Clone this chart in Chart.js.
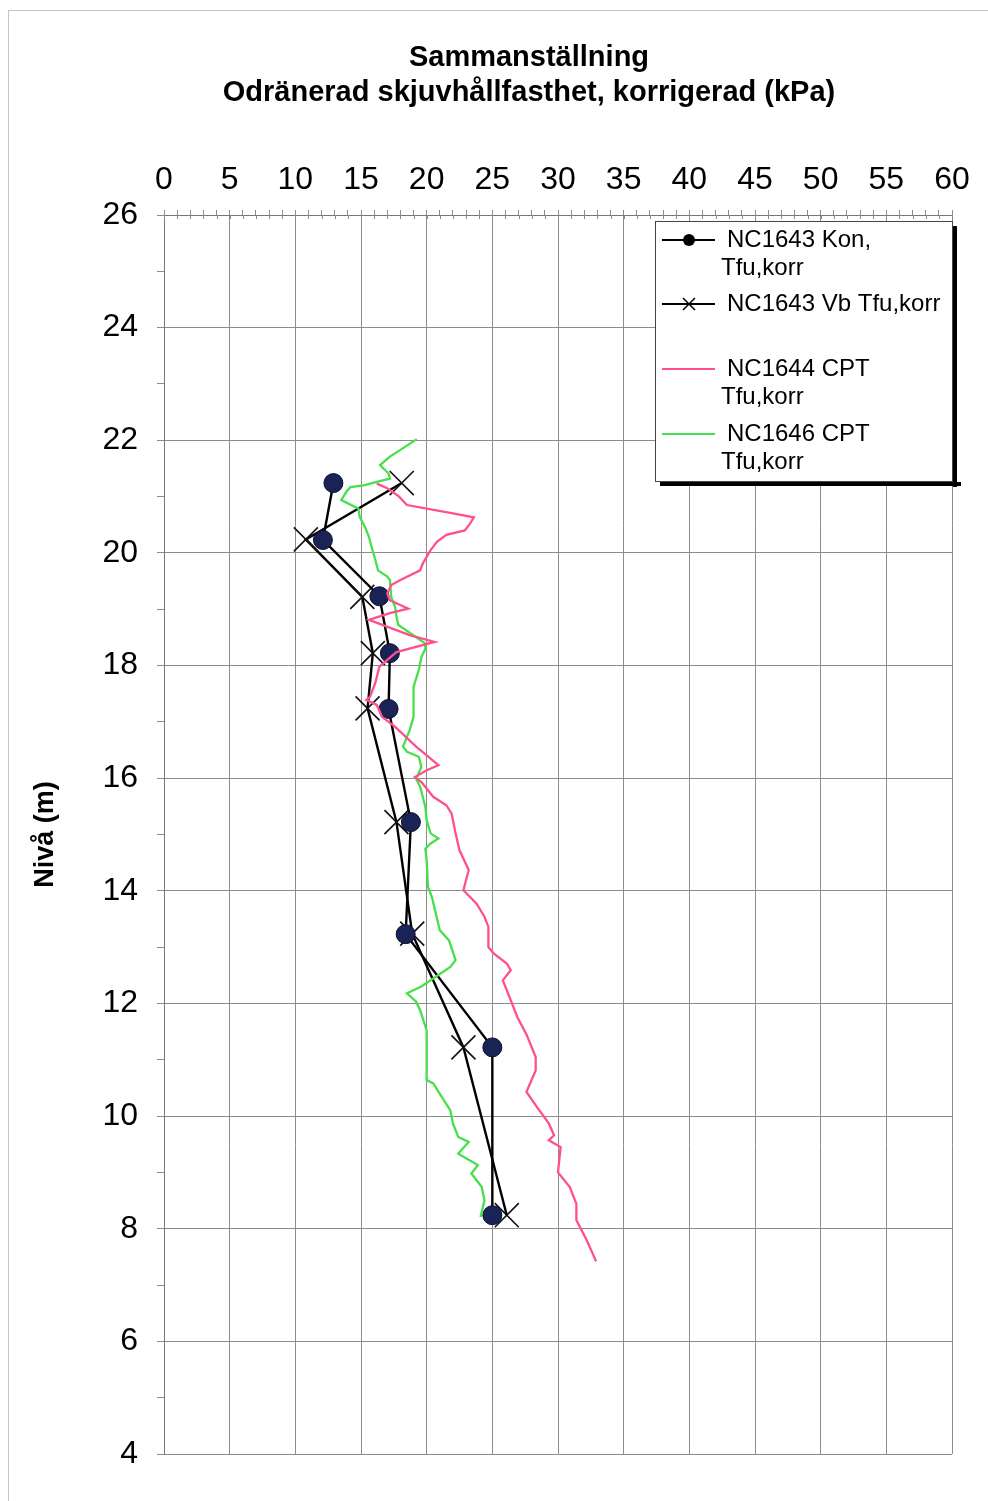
<!DOCTYPE html>
<html>
<head>
<meta charset="utf-8">
<script src="https://cdn.jsdelivr.net/npm/chart.js@4.4.1/dist/chart.umd.min.js"></script>
<style>
  html, body { margin: 0; padding: 0; background: #fff; }
  #wrap { position: relative; width: 988px; height: 1501px; }
  #frame { position: absolute; left: 8px; top: 10px; right: 0; bottom: 0;
           border-left: 1px solid #c4c4c4; border-top: 1px solid #c4c4c4; }
  canvas { position: absolute; left: 0; top: 0; }
</style>
</head>
<body>
<div id="wrap"><div id="frame"></div><canvas id="myChart" width="988" height="1501"></canvas></div>
<script>
// tick labels
const xMajorTicks = [0, 5, 10, 15, 20, 25, 30, 35, 40, 45, 50, 55, 60];
const yMajorTicks = [4, 6, 8, 10, 12, 14, 16, 18, 20, 22, 24, 26];

// NC1643 Kon, Tfu,korr
const konDepth = [21.24, 20.23, 19.23, 18.22, 17.23, 15.22, 13.23, 11.22, 8.24];
const konValue = [12.9, 12.1, 16.4, 17.2, 17.1, 18.8, 18.4, 25.0, 25.0];

// NC1643 Vb Tfu,korr
const vbDepth = [21.24, 20.24, 19.22, 18.22, 17.24, 15.22, 13.24, 11.22, 8.24];
const vbValue = [18.1, 10.8, 15.1, 15.9, 15.5, 17.7, 18.9, 22.8, 26.1];

// NC1644 CPT Tfu,korr
const cpt1644Depth = [21.23, 21.15, 21.0, 20.85, 20.70, 20.63, 20.52, 20.4, 20.32, 20.2,
  20.05, 19.81, 19.69, 19.52, 19.43, 19.28, 19.16, 19.01, 18.93, 18.81,
  18.54, 18.42, 18.24, 17.98, 17.7, 17.45, 17.39, 17.3, 17.09, 16.91,
  16.56, 16.23, 16.14, 16.02, 15.93, 15.67, 15.52, 15.37, 15.02, 14.72,
  14.37, 14.01, 13.77, 13.54, 13.36, 13.0, 12.89, 12.71, 12.59, 12.41,
  12.06, 11.76, 11.45, 11.05, 10.81, 10.43, 10.16, 9.87, 9.66, 9.57,
  9.45, 9.0, 8.74, 8.44, 8.15, 7.79, 7.42];
const cpt1644Value = [16.2, 17.0, 17.9, 18.5, 22.0, 23.6, 23.3, 22.9, 21.5, 20.8,
  20.3, 19.7, 19.5, 18.0, 17.3, 17.0, 17.2, 18.6, 17.2, 15.6,
  18.7, 20.6, 17.7, 16.4, 16.1, 15.7, 15.4, 16.2, 16.6, 17.6,
  19.2, 20.9, 20.0, 19.1, 19.6, 20.5, 21.5, 21.9, 22.2, 22.5,
  23.2, 22.8, 23.8, 24.4, 24.7, 24.7, 25.1, 26.1, 26.4, 25.8,
  26.4, 26.9, 27.6, 28.3, 28.3, 27.6, 28.4, 29.3, 29.7, 29.3,
  30.2, 30.0, 30.9, 31.4, 31.4, 32.2, 32.9];

// NC1646 CPT Tfu,korr
const cpt1646Depth = [22.02, 21.83, 21.71, 21.56, 21.41, 21.32, 21.26, 21.2, 21.17, 21.09,
  20.94, 20.88, 20.79, 20.64, 20.46, 20.29, 20.11, 19.87, 19.69, 19.58,
  19.52, 19.22, 19.04, 18.87, 18.72, 18.39, 18.3, 18.15, 17.92, 17.62,
  17.09, 16.85, 16.56, 16.47, 16.38, 16.2, 15.99, 15.85, 15.49, 15.25,
  15.02, 14.93, 14.84, 14.75, 14.54, 14.07, 13.89, 13.3, 13.12, 12.77,
  12.65, 12.3, 12.18, 12.03, 11.88, 11.52, 10.64, 10.58, 10.1, 9.87,
  9.63, 9.54, 9.33, 9.13, 8.98, 8.74, 8.5, 8.21];
const cpt1646Value = [19.25, 18.0, 17.2, 16.45, 17.1, 17.2, 16.2, 15.2, 14.2, 13.9,
  13.5, 14.0, 14.8, 14.9, 15.3, 15.6, 15.8, 16.1, 16.3, 17.0,
  17.2, 17.3, 17.6, 17.7, 17.85, 19.9, 19.9, 19.6, 19.4, 19.0,
  19.0, 18.7, 18.2, 18.5, 19.4, 19.6, 19.2, 19.5, 19.9, 20.0,
  20.3, 20.9, 20.3, 19.9, 20.0, 20.1, 20.4, 21.0, 21.7, 22.2,
  21.8, 19.6, 18.5, 19.2, 19.5, 20.0, 20.0, 20.5, 21.8, 22.0,
  22.4, 23.2, 22.4, 23.9, 23.4, 24.2, 24.4, 24.1];

const toPoints = (vals, depths) => vals.map((v, i) => ({ x: v, y: depths[i] }));

const PINK = '#ff4f8c';
const GREEN = '#45e04c';
const NAVY = '#1a2356';
const GRID = '#8c8c8c';

document.addEventListener('DOMContentLoaded', () => {
  const ctx = document.getElementById('myChart');
  Chart.defaults.font.family = "'Liberation Sans', Arial, sans-serif";
  Chart.defaults.color = '#000';

  // two-line bold title, centred a little left of the plot centre like the original
  const titlePlugin = {
    id: 'titleText',
    afterDraw(chart) {
      const c = chart.ctx;
      c.save();
      c.fillStyle = '#000';
      c.font = "bold 29px 'Liberation Sans', Arial, sans-serif";
      c.textAlign = 'center';
      c.textBaseline = 'middle';
      c.fillText('Sammanställning', 529, 58);
      c.fillText('Odränerad skjuvhållfasthet, korrigerad (kPa)', 529, 93);
      c.restore();
    }
  };

  // the top axis ticks cross the axis line, draw the inner half
  const innerTicks = {
    id: 'innerTicks',
    afterDatasetsDraw(chart) {
      const c = chart.ctx, xs = chart.scales.x, top = chart.chartArea.top;
      c.save();
      c.strokeStyle = GRID;
      c.lineWidth = 1;
      c.beginPath();
      xs.ticks.forEach(t => {
        const px = Math.round(xs.getPixelForValue(t.value)) + 0.5;
        c.moveTo(px, top);
        c.lineTo(px, top + 4);
      });
      c.stroke();
      c.restore();
    }
  };

  // boxed legend with black drop shadow, inside the plot
  const legendPlugin = {
    id: 'boxLegend',
    afterDraw(chart) {
      const c = chart.ctx;
      const left = 655, top = 221, w = 298, h = 261;
      c.save();
      c.fillStyle = '#000';
      c.fillRect(left + 5, top + h, w + 3, 4);
      c.fillRect(left + w, top + 5, 4, h);
      c.fillStyle = '#fff';
      c.fillRect(left, top, w, h);
      c.strokeStyle = '#444';
      c.lineWidth = 1;
      c.strokeRect(left + 0.5, top + 0.5, w - 1, h - 1);

      const items = [
        { lines: ['NC1643 Kon,', 'Tfu,korr'], y: 240, color: '#000', marker: 'circle' },
        { lines: ['NC1643 Vb Tfu,korr'], y: 304, color: '#000', marker: 'cross' },
        { lines: ['NC1644 CPT', 'Tfu,korr'], y: 369, color: PINK, marker: null },
        { lines: ['NC1646 CPT', 'Tfu,korr'], y: 434, color: GREEN, marker: null },
      ];
      c.font = "24px 'Liberation Sans', Arial, sans-serif";
      c.textBaseline = 'middle';
      c.textAlign = 'left';
      items.forEach(it => {
        c.strokeStyle = it.color;
        c.lineWidth = 2;
        c.beginPath();
        c.moveTo(662, it.y);
        c.lineTo(715, it.y);
        c.stroke();
        if (it.marker === 'circle') {
          c.fillStyle = '#000';
          c.beginPath();
          c.arc(689, it.y, 6, 0, Math.PI * 2);
          c.fill();
        } else if (it.marker === 'cross') {
          c.lineWidth = 1.5;
          c.beginPath();
          c.moveTo(683, it.y - 6); c.lineTo(695, it.y + 6);
          c.moveTo(683, it.y + 6); c.lineTo(695, it.y - 6);
          c.stroke();
        }
        c.fillStyle = '#000';
        c.fillText(it.lines[0], 727, it.y);
        if (it.lines[1]) c.fillText(it.lines[1], 721, it.y + 28);
      });
      c.restore();
    }
  };

  const data = {
    datasets: [
      {
        label: 'NC1643 Kon, Tfu,korr',
        data: toPoints(konValue, konDepth),
        showLine: true,
        borderColor: '#000',
        borderWidth: 2.4,
        pointStyle: 'circle',
        pointRadius: 9.5,
        pointBackgroundColor: NAVY,
        pointBorderColor: '#0a0f30',
        pointBorderWidth: 1,
        order: 2
      },
      {
        label: 'NC1643 Vb Tfu,korr',
        data: toPoints(vbValue, vbDepth),
        showLine: true,
        borderColor: '#000',
        borderWidth: 2.4,
        pointStyle: 'crossRot',
        pointRadius: 17,
        pointBorderColor: '#111',
        pointBorderWidth: 1.6,
        order: 2
      },
      {
        label: 'NC1644 CPT Tfu,korr',
        data: toPoints(cpt1644Value, cpt1644Depth),
        showLine: true,
        borderColor: PINK,
        borderWidth: 2.3,
        pointRadius: 0,
        order: 1
      },
      {
        label: 'NC1646 CPT Tfu,korr',
        data: toPoints(cpt1646Value, cpt1646Depth),
        showLine: true,
        borderColor: GREEN,
        borderWidth: 2.3,
        pointRadius: 0,
        order: 1
      }
    ]
  };

  const config = {
    type: 'scatter',
    data: data,
    options: {
      responsive: false,
      animation: false,
      events: [],
      layout: { padding: { left: 0, top: 0, right: 36, bottom: 47 } },
      plugins: {
        legend: { display: false },
        title: { display: false },
        tooltip: { enabled: false }
      },
      scales: {
        x: {
          type: 'linear',
          position: 'top',
          min: 0, max: 60,
          afterFit: s => { s.height = 215; },
          ticks: {
            stepSize: 1,
            autoSkip: false,
            maxRotation: 0,
            padding: 11,
            font: { size: 32 },
            callback: v => xMajorTicks.includes(v) ? String(v) : ''
          },
          grid: {
            color: c => (c.tick && xMajorTicks.includes(c.tick.value)) ? GRID : 'rgba(0,0,0,0)',
            tickColor: GRID,
            tickLength: 5,
            lineWidth: 1
          },
          border: { display: true, color: '#777', width: 1 }
        },
        y: {
          type: 'linear',
          position: 'left',
          min: 4, max: 26,
          afterFit: s => { s.width = 164; },
          title: {
            display: true,
            text: 'Nivå (m)',
            font: { size: 27, weight: 'bold' },
            padding: { top: 29, bottom: 0 }
          },
          ticks: {
            stepSize: 1,
            autoSkip: false,
            padding: 19,
            font: { size: 32 },
            callback: v => yMajorTicks.includes(v) ? String(v) : ''
          },
          grid: {
            color: c => (c.tick && yMajorTicks.includes(c.tick.value)) ? GRID : 'rgba(0,0,0,0)',
            tickColor: GRID,
            tickLength: 7,
            lineWidth: 1
          },
          border: { display: true, color: '#777', width: 1 }
        }
      }
    },
    plugins: [titlePlugin, innerTicks, legendPlugin]
  };

  new Chart(ctx, config);
});
</script>
</body>
</html>
